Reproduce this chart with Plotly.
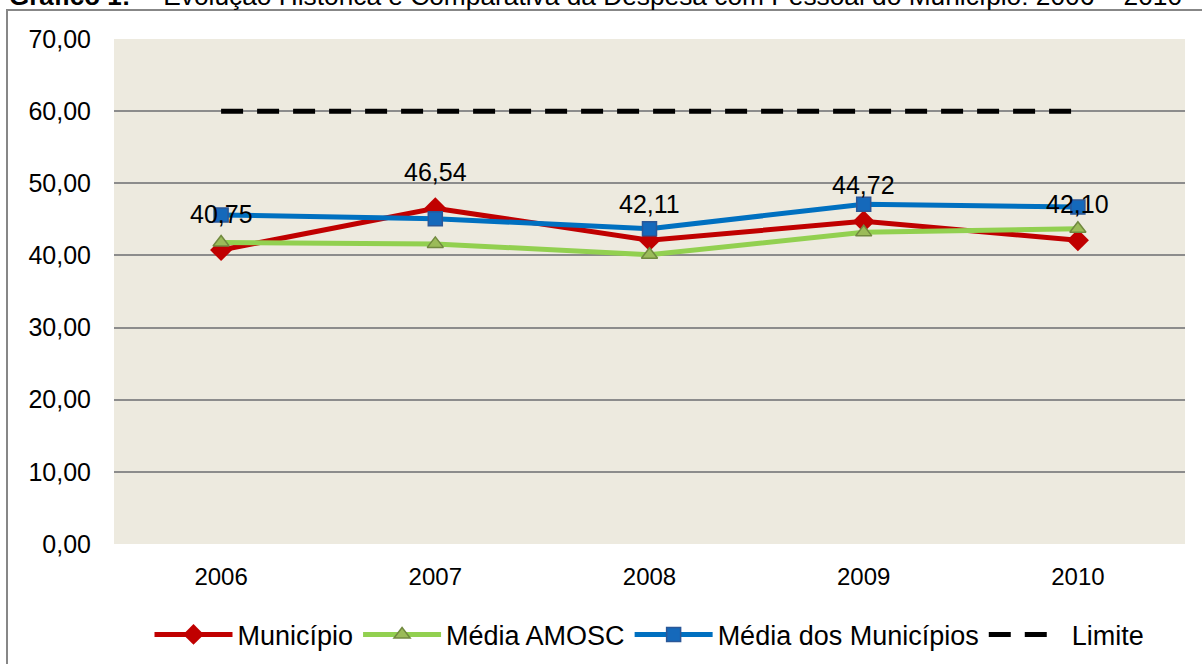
import plotly.graph_objects as go

years = ["2006", "2007", "2008", "2009", "2010"]
municipio = [40.75, 46.54, 42.11, 44.72, 42.10]
media_amosc = [41.8, 41.6, 40.1, 43.2, 43.7]
media_municipios = [45.6, 45.1, 43.7, 47.1, 46.7]
limite = [60, 60, 60, 60, 60]
y_ticks = [0, 10, 20, 30, 40, 50, 60, 70]

FONT = "Liberation Sans, Arial, sans-serif"
pos = list(range(len(years)))

fig = go.Figure()
fig.add_trace(go.Scatter(
    x=pos, y=municipio, name="Município", mode="lines+markers",
    line=dict(color="#C00000", width=5),
    marker=dict(symbol="diamond", size=17, color="#C00000"),
))
fig.add_trace(go.Scatter(
    x=pos, y=media_amosc, name="Média AMOSC", mode="lines+markers",
    line=dict(color="#92D050", width=5),
    marker=dict(symbol="triangle-up", size=14, color="#9BBB59",
                line=dict(color="#71893F", width=1.5)),
))
fig.add_trace(go.Scatter(
    x=pos, y=media_municipios, name="Média dos Municípios", mode="lines+markers",
    line=dict(color="#0070C0", width=5),
    marker=dict(symbol="square", size=14, color="#1569BB",
                line=dict(color="#2B5797", width=1.5)),
))
fig.add_trace(go.Scatter(
    x=pos, y=limite, name="Limite", mode="lines", showlegend=False,
    legendgroup="limite",
    line=dict(color="#000000", width=5, dash="22px,14px"),
))
# legend entry for the limit line (two dashes, like the reference legend)
fig.add_trace(go.Scatter(
    x=[None], y=[None], name="Limite", mode="lines", legendgroup="limite",
    line=dict(color="#000000", width=5, dash="22px,14px,22px,80px"),
))

annotations = []
for i, v in zip(pos, municipio):
    annotations.append(dict(
        x=i, y=v, xref="x", yref="y", text=f"{v:.2f}".replace(".", ","),
        showarrow=False, yshift=36, yanchor="middle", xanchor="center",
        font=dict(family=FONT, size=25, color="#000000"),
    ))

# title (partially cut by the page top as in the reference)
annotations.append(dict(
    x=-0.0999, xref="paper", y=1.0, yref="paper", text="<b>Gráfico 1:</b>",
    showarrow=False, xanchor="left", yanchor="bottom", yshift=26,
    font=dict(family=FONT, size=26, color="#000000"),
))
annotations.append(dict(
    x=-0.0999, xref="paper", y=1.0, yref="paper",
    text="–  Evolução Histórica e Comparativa da Despesa com Pessoal do Município: 2006 – 2010",
    showarrow=False, xanchor="left", yanchor="bottom", yshift=26, xshift=125,
    font=dict(family=FONT, size=26.3, color="#000000"),
))

fig.update_layout(
    width=1202, height=664,
    margin=dict(l=114, r=17, t=39, b=120, autoexpand=False),
    paper_bgcolor="#FFFFFF",
    plot_bgcolor="#EDEADF",
    font=dict(family=FONT, size=24, color="#000000"),
    showlegend=True,
    legend=dict(orientation="h", x=0.5, xanchor="center", y=-0.18, yanchor="middle",
                font=dict(family=FONT, size=27), itemwidth=78, bgcolor="rgba(0,0,0,0)"),
    annotations=annotations,
    shapes=[dict(type="rect", xref="paper", yref="paper",
                 x0=-0.0999, x1=1.03, y0=-0.35, y1=(544 - 10) / 505,
                 line=dict(color="#878787", width=2), fillcolor="rgba(0,0,0,0)",
                 layer="below")],
)
fig.update_xaxes(
    range=[-0.5, 4.5], tickvals=pos, ticktext=years, showgrid=False, zeroline=False,
    showline=False, ticks="", ticklabelstandoff=16,
    tickfont=dict(family=FONT, size=24),
)
fig.update_yaxes(
    range=[0, 70], tickvals=y_ticks,
    ticktext=[f"{t:.2f}".replace(".", ",") for t in y_ticks],
    showgrid=True, gridcolor="#8C8C8C", gridwidth=2, zeroline=False,
    showline=False, ticks="", ticklabelstandoff=22,
    tickfont=dict(family=FONT, size=25),
)

fig.write_html("out.html", config={"displayModeBar": False},
               post_script="document.body.style.margin='0px';")
